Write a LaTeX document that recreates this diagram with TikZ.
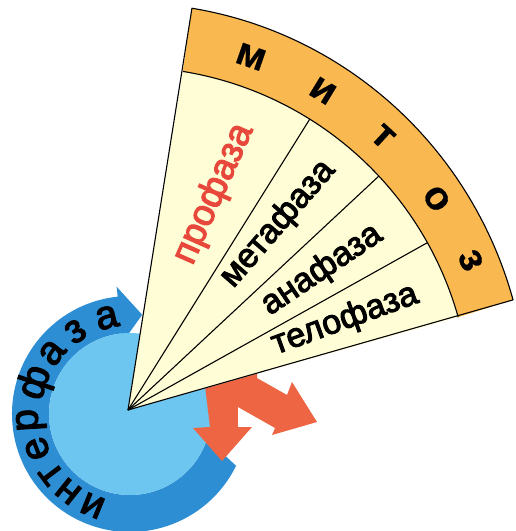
\documentclass[tikz,border=0pt]{standalone}
\usepackage{fontspec}
\setmainfont{Liberation Sans}
\newfontfamily\heavyfont[FakeBold=3]{Liberation Sans}
\newfontfamily\mitozfont[FakeBold=0.6]{Liberation Sans Bold}
\begin{document}
\begin{tikzpicture}[x=1pt,y=1pt]
\definecolor{cream}{HTML}{FFFDD5}
\definecolor{band}{HTML}{F9B850}
\definecolor{arrowred}{HTML}{EE6543}
\definecolor{textred}{HTML}{E8483C}
\definecolor{ringblue}{HTML}{2E8ED4}
\definecolor{diskblue}{HTML}{6DC6F0}
\tikzset{
  phase/.style={font=\heavyfont\fontsize{34}{36}\selectfont, inner sep=0pt, anchor=center},
  mitoz/.style={font=\mitozfont\fontsize{40}{42}\selectfont, inner sep=0pt},
  ringtxt/.style={font=\heavyfont\fontsize{40}{42}\selectfont, inner sep=0pt},
  fanline/.style={draw=black, line width=1.1pt, line join=round}
}
\useasboundingbox (-128,-121) rectangle (387,410);
\coordinate (O) at (0,0);
\coordinate (D) at (2,-4);
% interphase ring with arrowhead
\fill[ringblue] ([shift={(D)}]-26:118) arc[start angle=-26, end angle=-264, radius=118]
  -- ([shift={(D)}]96:128) -- ([shift={(D)}]83:100) -- ([shift={(D)}]96:72)
  -- ([shift={(D)}]96:81) arc[start angle=-264, end angle=-18, radius=81] -- cycle;
% light disk
\fill[diskblue] (D) circle[radius=81];
% red double arrow
\fill[arrowred] (77,24) -- (82,-17) -- (65,-18) -- (94,-51) -- (124,-17) -- (110,-17)
  -- (110,3) -- (147,-18) -- (144,-25) -- (189,-12) -- (164,28) -- (159,15)
  -- (129,32) -- (129,38) -- cycle;
% fan
\fill[band] (15.7:343) -- (15.7:400 and 407) arc[start angle=15.7, end angle=80.8, x radius=400, y radius=407]
  -- (80.8:343) arc[start angle=80.8, end angle=15.7, radius=343] -- cycle;
\fill[cream] (O) -- (15.7:343) arc[start angle=15.7, end angle=80.8, radius=343] -- cycle;
\draw[fanline] (O) -- (15.7:400 and 407) arc[start angle=15.7, end angle=80.8, x radius=400, y radius=407] -- cycle;
\draw[fanline] (15.7:343) arc[start angle=15.7, end angle=80.8, radius=343];
\draw[fanline] (O) -- (58:343);
\draw[fanline] (O) -- (43:343);
\draw[fanline] (O) -- (29.2:343);
% phase names
\node[phase, text=textred, font=\heavyfont\fontsize{37}{39}\selectfont, rotate=66] (pro) at (86,216) {профаза};
\node[phase, rotate=49] (meta) at (150,186) {метафаза};
\node[phase, rotate=34] (ana) at (194,140) {анафаза};
\node[phase, rotate=20] (telo) at (217,90) {телофаза};
% mitoz letters
\node[mitoz, rotate=-19.2] (m1) at (70.8:374) {м};
\node[mitoz, rotate=-31.4] (m2) at (58.6:374) {и};
\node[mitoz, rotate=-43] (m3) at (47:374) {т};
\node[mitoz, rotate=-55.6] (m4) at (34.4:374) {о};
\node[mitoz, rotate=-66.4] (m5) at (23.6:374) {з};
% interphase letters
\foreach \a/\l [count=\i] in {247.8/и, 231.4/н, 217.2/т, 200.4/е, 183.5/р, 161.6/ф, 141.8/а, 123.4/з, 103.5/а}
  \node[ringtxt, rotate=\a-90] (r\i) at ([shift={(D)}]\a:99) {\l};
\end{tikzpicture}
\end{document}
